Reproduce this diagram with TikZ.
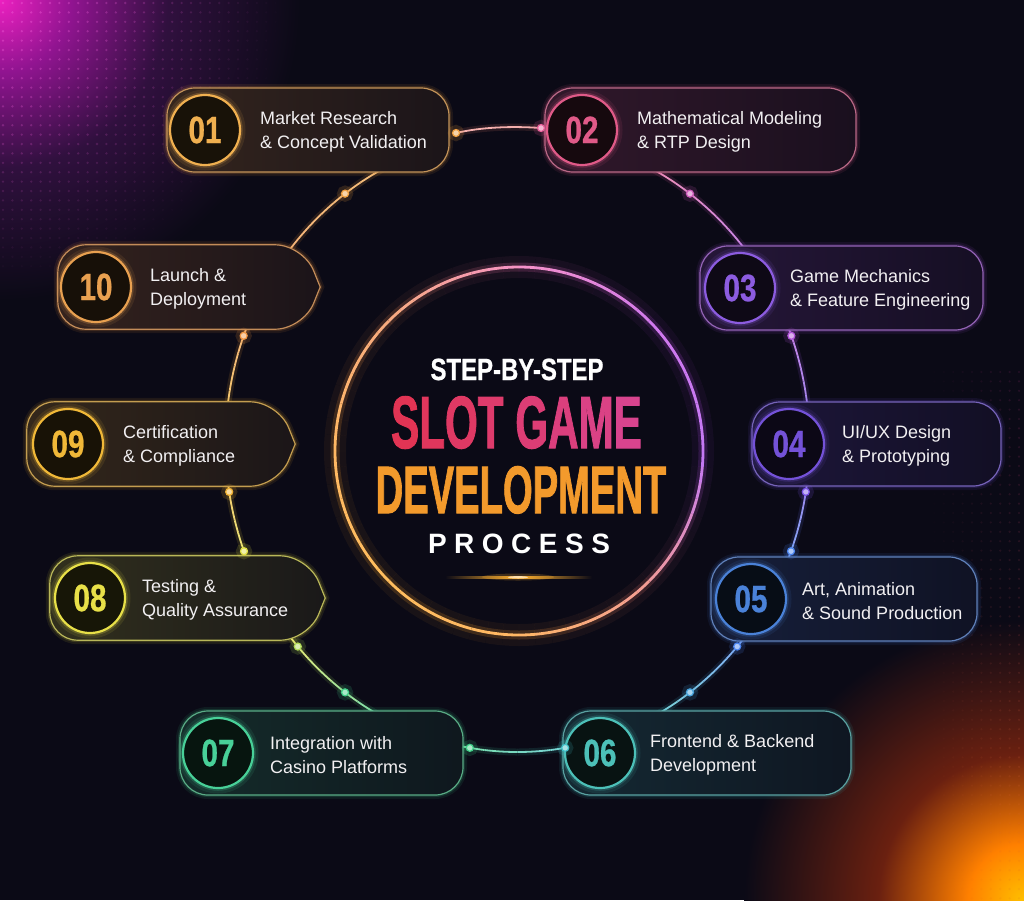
\documentclass[tikz,border=0pt]{standalone}
\usepackage{fontspec}
\setmainfont{Liberation Sans}
\newfontfamily\heavyfont[FakeBold=1.6]{Liberation Sans Bold}
\newfontfamily\semifont[FakeBold=0.8]{Liberation Sans Bold}
\usepackage{graphicx}
\usetikzlibrary{calc}
\definecolor{bgc}{HTML}{0B0A16}
\definecolor{txtc}{HTML}{F2F0F2}
\definecolor{tlA}{HTML}{EC20C0}
\definecolor{tlB}{HTML}{901490}
\definecolor{tlC}{HTML}{30103E}
\definecolor{brA}{HTML}{FFC000}
\definecolor{brB}{HTML}{FF8000}
\definecolor{brC}{HTML}{6A2010}
\definecolor{tldot}{HTML}{F060D8}
\definecolor{rdotA}{HTML}{B03080}
\definecolor{rdotB}{HTML}{E07020}
% ring colours
\definecolor{r0}{HTML}{B04CF0}
\definecolor{r1}{HTML}{F07C70}
\definecolor{r2}{HTML}{FFA030}
\definecolor{r3}{HTML}{FFA828}
\definecolor{r4}{HTML}{FFA030}
\definecolor{r5}{HTML}{F58E58}
\definecolor{r6}{HTML}{F06CB8}
\definecolor{r7}{HTML}{C04CE8}
% step colours
\definecolor{c01}{HTML}{F0A040}
\definecolor{c02}{HTML}{E0588A}
\definecolor{c03}{HTML}{A050D8}
\definecolor{c04}{HTML}{7050E0}
\definecolor{c05}{HTML}{4A80E0}
\definecolor{c06}{HTML}{40B8B8}
\definecolor{c07}{HTML}{40C888}
\definecolor{c08}{HTML}{E0DC40}
\definecolor{c09}{HTML}{F0B030}
\definecolor{c10}{HTML}{F09440}
% number colours
\definecolor{n01}{HTML}{F0B050}
\definecolor{n02}{HTML}{E05A88}
\definecolor{n03}{HTML}{8C5CE0}
\definecolor{n04}{HTML}{7452D8}
\definecolor{n05}{HTML}{4A82D8}
\definecolor{n06}{HTML}{4CC0B8}
\definecolor{n07}{HTML}{48D098}
\definecolor{n08}{HTML}{E8E048}
\definecolor{n09}{HTML}{F0B838}
\definecolor{n10}{HTML}{E8A050}
% connector colours
\definecolor{k01}{HTML}{F0A040}
\definecolor{k02}{HTML}{E8609A}
\definecolor{k03}{HTML}{B050D8}
\definecolor{k04}{HTML}{7A52E8}
\definecolor{k05}{HTML}{4A84F0}
\definecolor{k06}{HTML}{40C0C8}
\definecolor{k07}{HTML}{40D088}
\definecolor{k08}{HTML}{E0E040}
\definecolor{k09}{HTML}{F0B030}
\definecolor{k10}{HTML}{F09440}
\definecolor{sgA}{HTML}{E23454}
\definecolor{sgB}{HTML}{D8448E}
\definecolor{devc}{HTML}{F39A2C}
\definecolor{glowO}{HTML}{FFB030}

\pgfdeclareradialshading{tlglow}{\pgfpoint{0bp}{0bp}}{color(0bp)=(tlA); color(6bp)=(tlB); color(14bp)=(tlC); color(25bp)=(bgc); color(50bp)=(bgc)}
\pgfdeclareradialshading{brglow}{\pgfpoint{0bp}{0bp}}{color(0bp)=(brA); color(5bp)=(brB); color(13bp)=(brC); color(25bp)=(bgc); color(50bp)=(bgc)}

\newcommand\ringseg[4]{%
 \foreach \kk in {0,...,7}{%
  \pgfmathsetmacro\angA{#1+(#2-#1)*\kk/8}%
  \pgfmathsetmacro\angB{#1+(#2-#1)*(\kk+1)/8}%
  \pgfmathtruncatemacro\pp{100-\kk*100/7}%
  \draw[draw={#3!\pp!#4}, line width=7, opacity=0.13] ($(rc)+(\angA:292 and 309)$) arc[start angle=\angA, end angle=\angB, x radius=292, y radius=309];%
  \draw[draw={#3!\pp!#4!70!white}, line width=1.8] ($(rc)+(\angA:292 and 309)$) arc[start angle=\angA, end angle=\angB, x radius=292, y radius=309];%
 }}

\newcommand\numtxt[1]{\scalebox{0.78}[1]{\fontsize{38}{38}\selectfont\semifont #1}}

\tikzset{
 stepbox/.style={rectangle, rounded corners=28, minimum height=84, inner sep=0, line width=1.2,
   draw=#1!60!gray, left color=#1!18!bgc, right color=#1!7!bgc,
   preaction={draw=#1, line width=8, opacity=0.09},
   preaction={draw=#1, line width=4, opacity=0.16}},
 stepanchor/.style={rectangle, minimum height=84, inner sep=0, draw=none},
 pointbox/.style={line width=1.2, draw=#1!60!gray, left color=#1!18!bgc, right color=#1!7!bgc,
   preaction={draw=#1, line width=8, opacity=0.09},
   preaction={draw=#1, line width=4, opacity=0.16}},
 numring/.style={circle, minimum size=70, inner sep=0, draw=#1, line width=2.2,
   fill=#1!10!black, text=#1,
   preaction={draw=#1, line width=11, opacity=0.10},
   preaction={draw=#1, line width=5.5, opacity=0.22}},
 steptext/.style={anchor=west, inner sep=0, align=left, text=txtc,
   font=\fontsize{18}{24}\selectfont},
 sdot/.style={circle, inner sep=0, minimum size=7, fill=#1!45!white, draw=#1, line width=1.2,
   preaction={draw=#1, line width=9, opacity=0.16}},
}

\begin{document}
\begin{tikzpicture}[x=1pt,y=-1pt]
\useasboundingbox (0,0) rectangle (1024,900);
\fill[bgc] (0,0) rectangle (1024,900);
\begin{scope}
 \clip (0,0) rectangle (1024,900);
 \shade[shading=tlglow] (-300,-300) rectangle (300,300);
 \shade[shading=brglow] (744,620) rectangle (1304,1180);
 \foreach \ii in {0,...,30}{\foreach \jj in {0,...,28}{%
   \pgfmathsetmacro\op{max(0,0.45*(1-veclen(\ii,\jj)*9.4/280))}%
   \fill[tldot, opacity=\op] (3+\ii*9.4,3+\jj*9.4) circle[radius=1.3];}}
 \foreach \ii in {0,...,10}{\foreach \jj in {0,...,56}{%
   \pgfmathsetmacro\op{0.16*(\ii/10)}%
   \pgfmathtruncatemacro\pp{100*\jj/56}%
   \fill[{rdotB!\pp!rdotA}, opacity=\op] (925+\ii*9.4, 372+\jj*9.4) circle[radius=1.2];}}
\end{scope}

% ---------- central ring ----------
\coordinate (cc) at (519,451);
\foreach \sa/\ca/\cbb in {0/r0/r1,45/r1/r2,90/r2/r3,135/r3/r4,180/r4/r5,225/r5/r6,270/r6/r7,315/r7/r0}{
 \foreach \kk in {0,...,8}{
  \pgfmathsetmacro\angA{\sa+5*\kk}
  \pgfmathsetmacro\angB{\sa+5*\kk+5}
  \pgfmathtruncatemacro\pp{100-\kk*11}
  \draw[{\ca!\pp!\cbb}, line width=22, opacity=0.06] ($(cc)+(\angA:184)$) arc[start angle=\angA, end angle=\angB, radius=184];
  \draw[{\ca!\pp!\cbb}, line width=9, opacity=0.17] ($(cc)+(\angA:184)$) arc[start angle=\angA, end angle=\angB, radius=184];
  \draw[{\ca!\pp!\cbb!75!white}, line width=2.8] ($(cc)+(\angA:184)$) arc[start angle=\angA, end angle=\angB, radius=184];
 }}

% ---------- title ----------
\node[anchor=base, inner sep=0, text=white] (t1) at (517,380)
  {\scalebox{0.78}[1]{\fontsize{30.7}{31}\selectfont\semifont STEP-BY-STEP}};
\node[anchor=base, inner sep=0] (t2) at (516.5,448)
  {\scalebox{0.57}[1]{\fontsize{74}{74}\selectfont\heavyfont
   \textcolor{sgA}{S}\textcolor{sgA!86!sgB}{L}\textcolor{sgA!72!sgB}{O}\textcolor{sgA!58!sgB}{T} \textcolor{sgA!44!sgB}{G}\textcolor{sgA!30!sgB}{A}\textcolor{sgA!15!sgB}{M}\textcolor{sgB}{E}}};
\node[anchor=base, inner sep=0, text=devc] (t3) at (521,513)
  {\scalebox{0.57}[1]{\fontsize{67}{67}\selectfont\heavyfont DEVELOPMENT}};
\node[anchor=base, inner sep=0, text=white] (t4) at (519,553)
  {\fontsize{28}{28}\selectfont\bfseries P\hspace{7.5pt}R\hspace{7.5pt}O\hspace{7.5pt}C\hspace{7.5pt}E\hspace{7.5pt}S\hspace{7.5pt}S};
\shade[left color=bgc, right color=bgc, middle color=glowO] (445,576) rectangle (592,578.6);
\fill[glowO, opacity=0.22] (518,577) ellipse[x radius=36, y radius=3.5];
\fill[white, opacity=0.6] (518,577.3) ellipse[x radius=10, y radius=1.2];

% ---------- connectors ----------
\coordinate (rc) at (517.5,443);
\ringseg{-142}{-116}{k10}{k01}
\ringseg{-64}{-37}{k02}{k03}
\ringseg{-24}{-4}{k03}{k04}
\ringseg{5}{24}{k04}{k05}
\ringseg{38}{63}{k05}{k06}
\ringseg{77}{103}{k06}{k07}
\ringseg{117}{142}{k07}{k08}
\ringseg{156}{175}{k08}{k09}
\ringseg{185}{204}{k09}{k10}

% ---------- boxes ----------
\node[stepbox=c01, minimum width=282] (b01) at (308,130) {};
\node[stepbox=c02, minimum width=311] (b02) at (700.5,130) {};
\node[stepbox=c03, minimum width=283] (b03) at (841.5,288) {};
\node[stepbox=c04, minimum width=249] (b04) at (876.5,444) {};
\node[stepbox=c05, minimum width=266] (b05) at (844,599) {};
\node[stepbox=c06, minimum width=288] (b06) at (707,753) {};
\node[stepbox=c07, minimum width=283] (b07) at (321.5,753) {};
\node[stepanchor, minimum width=275] (b08) at (187.5,598) {};
\node[stepanchor, minimum width=268] (b09) at (161,444) {};
\node[stepanchor, minimum width=262] (b10) at (189,287) {};
\foreach \bx/\bc in {b08/c08,b09/c09,b10/c10}{
 \path[pointbox=\bc] (\bx.east) [rounded corners=28] -- ([xshift=-17]\bx.north east) -- (\bx.north west)
   -- (\bx.south west) -- ([xshift=-17]\bx.south east) [sharp corners] -- (\bx.east) -- cycle;
}

% ---------- number rings ----------
\node[numring=n01] (m01) at (205,130) {\numtxt{01}};
\node[numring=n02] (m02) at (582,130) {\numtxt{02}};
\node[numring=n03] (m03) at (740,288) {\numtxt{03}};
\node[numring=n04] (m04) at (789,444) {\numtxt{04}};
\node[numring=n05] (m05) at (751,599) {\numtxt{05}};
\node[numring=n06] (m06) at (600,753) {\numtxt{06}};
\node[numring=n07] (m07) at (218,753) {\numtxt{07}};
\node[numring=n08] (m08) at (90,598) {\numtxt{08}};
\node[numring=n09] (m09) at (68,444) {\numtxt{09}};
\node[numring=n10] (m10) at (96,287) {\numtxt{10}};

% ---------- labels ----------
\node[steptext] (l01) at (260,132) {Market Research\\\& Concept Validation};
\node[steptext] (l02) at (637,132) {Mathematical Modeling\\\& RTP Design};
\node[steptext] (l03) at (790,290) {Game Mechanics\\\& Feature Engineering};
\node[steptext] (l04) at (842,446) {UI/UX Design\\\& Prototyping};
\node[steptext] (l05) at (802,601) {Art, Animation\\\& Sound Production};
\node[steptext] (l06) at (650,755) {Frontend \& Backend\\Development};
\node[steptext] (l07) at (270,755) {Integration with\\Casino Platforms};
\node[steptext] (l08) at (142,600) {Testing \&\\Quality Assurance};
\node[steptext] (l09) at (123,446) {Certification\\\& Compliance};
\node[steptext] (l10) at (150,289) {Launch \&\\Deployment};

% ---------- top connector 01 -> 02 ----------
\coordinate (d01a) at (456,133);
\coordinate (d02a) at (541,128);
\draw[k01!50!k02, line width=7, opacity=0.13] (d01a) .. controls (482,127) and (512,126) .. (d02a);
\draw[line width=1.8, k01!40!k02!60!white] (d01a) .. controls (482,127) and (512,126) .. (d02a);

% ---------- dots ----------
\node[sdot=k01] (e01a) at (d01a) {};
\node[sdot=k02] (e02a) at (d02a) {};
\node[sdot=k01] (d01b) at ($(rc)+(-126.2:292 and 309)$) {};
\node[sdot=k02!50!k03] (d02b) at ($(rc)+(-53.8:292 and 309)$) {};
\node[sdot=k03] (d03a) at ($(rc)+(-20.3:292 and 309)$) {};
\node[sdot=k04] (d04a) at ($(rc)+(9.1:292 and 309)$) {};
\node[sdot=k05] (d05a) at ($(rc)+(20.5:292 and 309)$) {};
\node[sdot=k05] (d05b) at ($(rc)+(41.2:292 and 309)$) {};
\node[sdot=k05!50!k06] (d06a) at ($(rc)+(53.8:292 and 309)$) {};
\node[sdot=k06] (d06b) at ($(rc)+(80.6:292 and 309)$) {};
\node[sdot=k07] (d07a) at ($(rc)+(99.4:292 and 309)$) {};
\node[sdot=k07] (d07b) at ($(rc)+(126.2:292 and 309)$) {};
\node[sdot=k08!70!k07] (d08a) at ($(rc)+(138.8:292 and 309)$) {};
\node[sdot=k08] (d08b) at ($(rc)+(159.5:292 and 309)$) {};
\node[sdot=k09] (d09a) at ($(rc)+(170.9:292 and 309)$) {};
\node[sdot=k10] (d10a) at ($(rc)+(200.3:292 and 309)$) {};
\end{tikzpicture}
\end{document}
